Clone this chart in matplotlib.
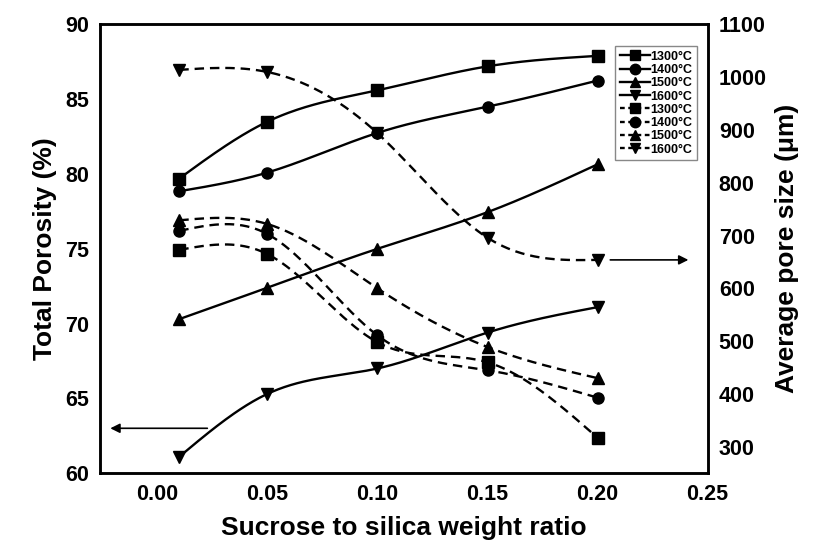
import numpy as np
import matplotlib
matplotlib.use("Agg")
import matplotlib.pyplot as plt

plt.rcParams['font.family'] = ['Liberation Sans', 'DejaVu Sans']
plt.rcParams['font.weight'] = 'bold'

# datos
ratio = [0.01, 0.05, 0.10, 0.15, 0.20]
temps = ["1300°C", "1400°C", "1500°C", "1600°C"]
markers = ["s", "o", "^", "v"]

porosity = {
    "1300°C": [79.7, 83.5, 85.6, 87.2, 87.9],
    "1400°C": [78.85, 80.1, 82.75, 84.5, 86.25],
    "1500°C": [70.3, 72.4, 75.0, 77.45, 80.65],
    "1600°C": [61.1, 65.3, 67.0, 69.4, 71.1],
}
pore_size = {
    "1300°C": [673, 665, 498, 460, 317],
    "1400°C": [709, 703, 511, 445, 393],
    "1500°C": [729, 722, 600, 489, 430],
    "1600°C": [1014, 1010, 894, 696, 654],
}


def spline(x, y, n=200):
    # spline cubico natural, solo para dibujar la linea suave
    x = np.asarray(x, float)
    y = np.asarray(y, float)
    k = len(x)
    h = np.diff(x)
    A = np.zeros((k, k))
    b = np.zeros(k)
    A[0, 0] = 1
    A[-1, -1] = 1
    for i in range(1, k - 1):
        A[i, i - 1] = h[i - 1]
        A[i, i] = 2 * (h[i - 1] + h[i])
        A[i, i + 1] = h[i]
        b[i] = 6 * ((y[i + 1] - y[i]) / h[i] - (y[i] - y[i - 1]) / h[i - 1])
    M = np.linalg.solve(A, b)
    xs = np.linspace(x[0], x[-1], n)
    idx = np.clip(np.searchsorted(x, xs) - 1, 0, k - 2)
    x0, x1 = x[idx], x[idx + 1]
    hh = x1 - x0
    t0 = x1 - xs
    t1 = xs - x0
    ys = (M[idx] * t0**3 + M[idx + 1] * t1**3) / (6 * hh) \
        + (y[idx] / hh - M[idx] * hh / 6) * t0 \
        + (y[idx + 1] / hh - M[idx + 1] * hh / 6) * t1
    return xs, ys


fig = plt.figure(figsize=(8.2, 5.56), dpi=100)
ax = fig.add_axes([0.122, 0.149, 0.741, 0.807])
ax2 = ax.twinx()

handles = []
for t, m in zip(temps, markers):
    xs, ys = spline(ratio, porosity[t])
    ax.plot(xs, ys, color="black", lw=1.7)
    ax.plot(ratio, porosity[t], ls="none", marker=m, ms=8, color="black")
    handles.append(plt.Line2D([], [], color="black", lw=1.7, marker=m, ms=7.5, label=t))
for t, m in zip(temps, markers):
    xs, ys = spline(ratio, pore_size[t])
    ax2.plot(xs, ys, color="black", lw=1.7, ls=(0, (4, 2.5)))
    ax2.plot(ratio, pore_size[t], ls="none", marker=m, ms=8, color="black")
    handles.append(plt.Line2D([], [], color="black", lw=1.7, ls=(0, (2, 1.5)),
                              marker=m, ms=7.5, label=t))

ax.set_xlim(-0.026, 0.2495)
ax.set_ylim(60, 90)
ax2.set_ylim(250, 1100)
ax.set_xticks([0.0, 0.05, 0.10, 0.15, 0.20, 0.25])
ax.set_xticklabels(["0.00", "0.05", "0.10", "0.15", "0.20", "0.25"])
ax.set_yticks(range(60, 91, 5))
ax2.set_yticks(range(300, 1101, 100))

for a in (ax, ax2):
    a.tick_params(length=0, labelsize=15.5, pad=8)
    for s in a.spines.values():
        s.set_linewidth(1.8)

ax.set_xlabel("Sucrose to silica weight ratio", fontsize=19, fontweight="bold", labelpad=8)
ax.set_ylabel("Total Porosity (%)", fontsize=19, fontweight="bold", labelpad=6)
ax2.set_ylabel("Average pore size (\u03bcm)", fontsize=19, fontweight="bold", labelpad=6)

# flechas que indican el eje de cada serie
ax.annotate("", xy=(-0.0226, 63.0), xytext=(0.024, 63.0),
            arrowprops=dict(arrowstyle="-|>", color="black", lw=1.2, mutation_scale=14))
ax2.annotate("", xy=(0.2425, 654), xytext=(0.2045, 654),
             arrowprops=dict(arrowstyle="-|>", color="black", lw=1.2, mutation_scale=14))

leg = ax2.legend(handles=handles, loc="upper right", bbox_to_anchor=(0.982, 0.951),
                 borderaxespad=0, fontsize=9, handlelength=2.4, handletextpad=0.05,
                 labelspacing=0.1, borderpad=0.35, fancybox=False, framealpha=1,
                 edgecolor="#888888")
leg.get_frame().set_linewidth(1.0)

fig.savefig("out.png", dpi=100)
